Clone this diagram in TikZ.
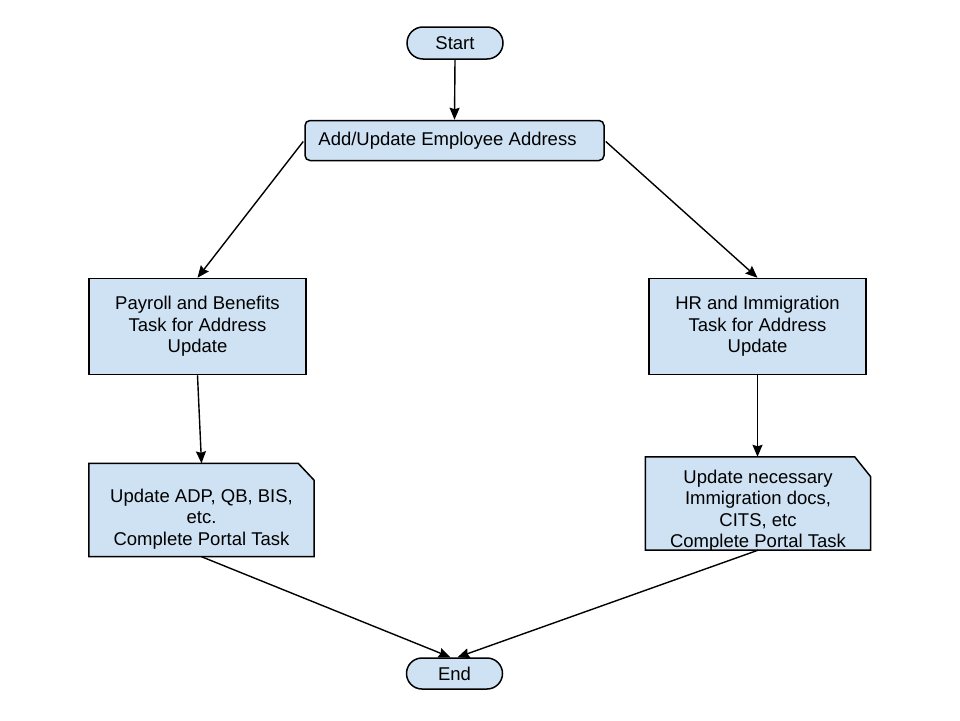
\documentclass[tikz,border=0pt]{standalone}
\usepackage{fontspec}
\setmainfont{Liberation Sans}
\usetikzlibrary{arrows.meta,calc,shapes.misc,backgrounds}
\definecolor{boxfill}{HTML}{CFE2F3}
\begin{document}
\begin{tikzpicture}[x=1pt,y=-1pt,
  every node/.style={font=\fontsize{18.5}{21.5}\selectfont, align=center, inner sep=0pt},
  shapeline/.style={draw=black, line width=1.5pt, fill=boxfill},
  term/.style={shapeline, rounded rectangle, minimum width=96pt, minimum height=32pt},
  proc/.style={shapeline, rectangle, rounded corners=5pt, minimum width=299pt, minimum height=40pt},
  task/.style={shapeline, rectangle, minimum width=217pt, minimum height=96pt},
  docarea/.style={rectangle, minimum width=225pt, minimum height=93pt},
  doctext/.style={},
  arr/.style={draw=black, line width=1.4pt, -{Stealth[length=12pt,width=10pt,inset=1.5pt]}}]
\useasboundingbox (0,0) rectangle (960,720);
\node[term] (start) at (455,43) {Start};
\node[proc] (add) at (454.5,140.5) {Add/Update Employee Address\hspace*{14pt}};
\node[task] (pay) at (197.5,326.5) {Payroll and Benefits\\Task for Address\\Update};
\node[task] (hr) at (757.5,326.5) {HR and Immigration\\Task for Address\\Update};
\node[docarea] (dl) at (201.5,510) {};
\node[docarea] (dr) at (758,503.5) {};
\node[doctext] (dlt) at ($(dl.center)+(0,9)$) {Update ADP, QB, BIS,\\etc.\\Complete Portal Task};
\node[doctext] (drt) at ($(dr.center)+(0,7)$) {Update necessary\\Immigration docs,\\CITS, etc\\Complete Portal Task};
\node[term, minimum height=31pt] (end) at (454.5,673.5) {End};
\begin{scope}[on background layer]
  \draw[shapeline] (dl.south west) -- (dl.north west) -- ($(dl.north east)+(-16,0)$) -- ($(dl.north east)+(0,17)$) -- (dl.south east) -- cycle;
  \draw[shapeline] (dr.south west) -- (dr.north west) -- ($(dr.north east)+(-16,0)$) -- ($(dr.north east)+(0,20)$) -- (dr.south east) -- cycle;
\end{scope}
\draw[arr] (start.south) -- (add.north);
\draw[arr] ($(add.west)+(-1,1)$) -- (pay.north);
\draw[arr] ($(add.east)+(1,1)$) -- (hr.north);
\draw[arr] (pay.south) -- (dl.north);
\draw[arr] (hr.south) -- ($(dr.north)+(-0.5,0)$);
\draw[arr] (dl.south) -- ($(end.north)+(-4,0)$);
\draw[arr] (dr.south) -- ($(end.north)+(3,0)$);
\end{tikzpicture}
\end{document}
